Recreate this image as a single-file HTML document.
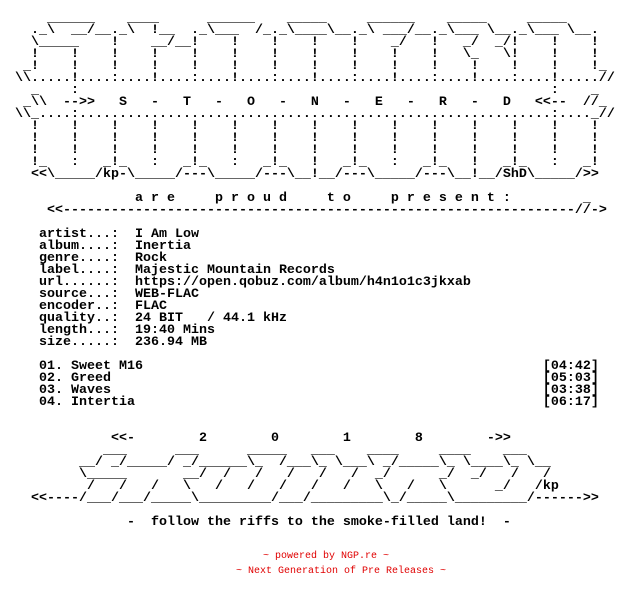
<!DOCTYPE html>
<html>
<head>
<meta charset="utf-8">
<style>
html,body{margin:0;padding:0;background:#fff;}
body{width:624px;height:600px;position:relative;overflow:hidden;}
pre{position:absolute;left:7px;top:13px;margin:0;font-family:"Liberation Mono",monospace;font-weight:bold;font-size:13.333px;line-height:12px;color:#000;}
.f{position:absolute;font-family:"Liberation Mono",monospace;font-size:10px;line-height:12px;color:#e00000;white-space:pre;}
</style>
</head>
<body>
<pre>     ______    ____      ______    _____     ______    _____     _____
   ._\  __/__._\  !__  ._\___  /_._\____\__._\ ___/__._\___ \__._\___ \__.
   \_____    !    __/__!    !    !    !    !    _/   !   _/  _/!    !    !
   !    !    !    !    !    !    !    !    !    !    !   \_   \!    !    !
  _!    !    !    !    !    !    !    !    !    !    !    !    !    !    !_
 \\.....!....:....!....:....!....:....!....:....!....:....!....:....!.....//
   _    :                                                           :    _
  _\\  --&gt;&gt;   S   -   T   -   O   -   N   -   E   -   R   -   D   &lt;&lt;--  //_
 \\_....:...........................................................:...._//
   !    !    !    !    !    !    !    !    !    !    !    !    !    !    !
   !    !    !    !    !    !    !    !    !    !    !    !    !    !    !
   !    !    !    !    !    !    !    !    !    !    !    !    !    !    !
   !_   :   _!_   :   _!_   :   _!_   !   _!_   :   _!_   !   _!_   :   _!
   &lt;&lt;\_____/kp-\_____/---\_____/---\__!__/---\_____/---\__!__/ShD\_____/&gt;&gt;

                a r e     p r o u d     t o     p r e s e n t :         _
     &lt;&lt;----------------------------------------------------------------//-&gt;

    artist...:  I Am Low
    album....:  Inertia
    genre....:  Rock
    label....:  Majestic Mountain Records
    url......:  https://open.qobuz.com/album/h4n1o1c3jkxab
    source...:  WEB-FLAC
    encoder..:  FLAC
    quality..:  24 BIT   / 44.1 kHz
    length...:  19:40 Mins
    size.....:  236.94 MB

    01. Sweet M16                                                  [04:42]
    02. Greed                                                      [05:03]
    03. Waves                                                      [03:38]
    04. Intertia                                                   [06:17]


             &lt;&lt;-        2        0        1        8        -&gt;&gt;
            ___      ___      _____   ___    ____     ____    ___
         __/ _/_____/ _/______\_  /___\_ \___\ _/_____\_ \____\_ \__
         \_____       __/  /   /   /   /   /  _/      _/  _/   /   /
          /   /   /   \   /   /   /   /   /   \   /   \      _/   /kp
   &lt;&lt;----/___/___/_____\_________/___/_________\_/_____\_________/------&gt;&gt;

               -  follow the riffs to the smoke-filled land!  -</pre>
<div class="f" style="left:263px;top:551px;">~ powered by NGP.re ~</div>
<div class="f" style="left:236px;top:566px;">~ Next Generation of Pre Releases ~</div>
</body>
</html>
